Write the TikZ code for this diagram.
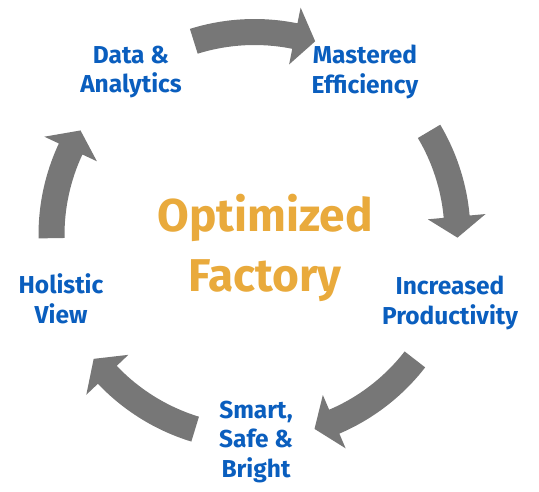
\documentclass[tikz,border=0pt]{standalone}
\usepackage{fontspec}
\usetikzlibrary{calc}
\newfontfamily\labelfont{Fira Sans}
\newfontfamily\titlefont{Fira Sans}
\definecolor{arrowgray}{HTML}{777777}
\definecolor{labelblue}{HTML}{0A5EBE}
\definecolor{titleorange}{HTML}{E9AA3C}
\tikzset{
  arrowfill/.style={fill=arrowgray, draw=none},
  stagelabel/.style={align=center, inner sep=0pt, text=labelblue,
    font=\labelfont\bfseries\fontsize{24.5}{29.5}\selectfont},
  titlelabel/.style={align=center, inner sep=0pt, text=titleorange,
    font=\titlefont\bfseries\fontsize{46}{60}\selectfont}
}
% #1 tail angle, #2 tip angle (clockwise, decreasing)
\newcommand{\cycarrow}[2]{%
  \pgfmathsetmacro\baseang{#2+5.93}%
  \fill[arrowfill] ($(c)+(#1:216pt)$) arc[start angle=#1, end angle=\baseang, radius=216pt]
    -- ($(c)+(\baseang:232pt)$) -- ($(c)+(#2:203pt)$) -- ($(c)+(\baseang:174pt)$)
    -- ($(c)+(\baseang:190pt)$) arc[start angle=\baseang, end angle=#1, radius=190pt] -- cycle;}
\begin{document}
\begin{tikzpicture}[x=1pt,y=1pt]
\useasboundingbox (0,0) rectangle (539,491);
\coordinate (c) at (254.5,256);
\cycarrow{107.4}{72.6}
\cycarrow{30.7}{-0.75}
\cycarrow{-37.8}{-72.8}
\cycarrow{-107}{-142.4}
\cycarrow{180.9}{149}
\node[stagelabel] (data) at (131,491-72) {Data \&\\Analytics};
\node[stagelabel] (mastered) at (365,491-72) {Mastered\\Efficiency};
\node[stagelabel] (increased) at (450,491-303) {Increased\\Productivity};
\node[stagelabel] (holistic) at (61,491-299) {Holistic\\View};
\node[stagelabel] (smart) at (256,491-442) {Smart,\\Safe \&\\Bright};
\node[titlelabel] (title) at (265,491-248) {Optimized\\Factory};
\end{tikzpicture}
\end{document}
